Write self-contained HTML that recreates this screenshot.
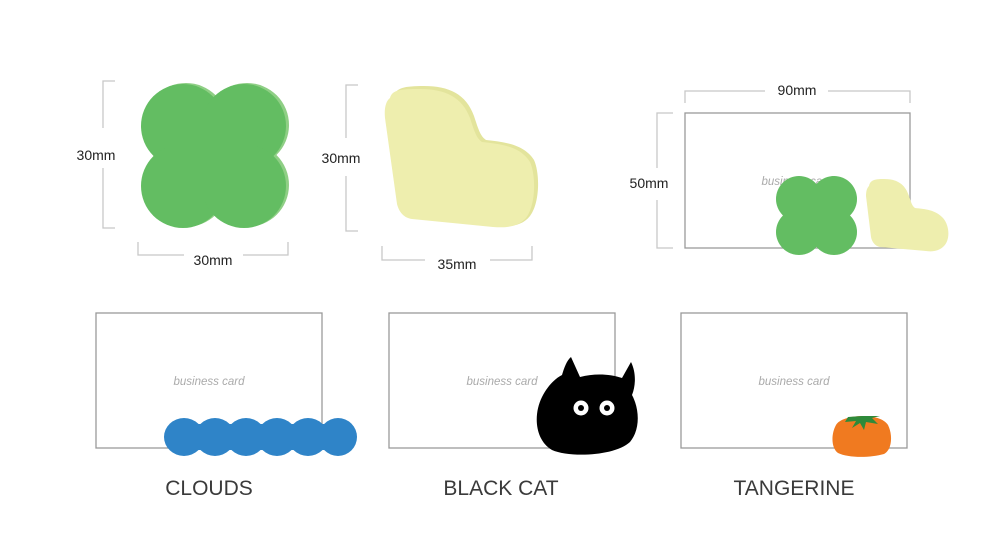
<!DOCTYPE html>
<html><head><meta charset="utf-8"><style>
html,body{margin:0;padding:0;background:#fff;}
svg{display:block;}
text{font-family:"Liberation Sans",sans-serif;}
</style></head><body>
<svg width="1000" height="536" viewBox="0 0 1000 536" xmlns="http://www.w3.org/2000/svg">
<g fill="none" stroke="#c8c8c8" stroke-width="1.3">
<polyline points="115,81 103,81 103,128"/><polyline points="103,168 103,228 115,228"/>
<polyline points="138,242 138,255 184,255"/><polyline points="243,255 288,255 288,242"/>
<polyline points="358,85 346,85 346,138"/><polyline points="346,176 346,231 358,231"/>
<polyline points="382,246 382,260 425,260"/><polyline points="490,260 532,260 532,246"/>
<polyline points="685,103 685,91 765,91"/><polyline points="828,91 910,91 910,103"/>
<polyline points="673,113 657,113 657,168"/><polyline points="657,200 657,248 673,248"/>
</g>
<g fill="none" stroke="#9a9a9a" stroke-width="1.3">
<rect x="685" y="113" width="225" height="135"/>
<rect x="96" y="313" width="226" height="135"/>
<rect x="389" y="313" width="226" height="135"/>
<rect x="681" y="313" width="226" height="135"/>
</g>
<g font-size="14" fill="#222" text-anchor="middle">
<text x="96" y="160">30mm</text>
<text x="213" y="265">30mm</text>
<text x="341" y="163">30mm</text>
<text x="457" y="269">35mm</text>
<text x="797" y="95">90mm</text>
<text x="649" y="188">50mm</text>
</g>
<g font-size="11.5" fill="#aaa" font-style="italic" text-anchor="middle">
<text x="797" y="185">business card</text>
<text x="209" y="385">business card</text>
<text x="502" y="385">business card</text>
<text x="794" y="385">business card</text>
</g>
<g fill="#8fcf85"><circle cx="186" cy="125" r="42"/><circle cx="247" cy="125" r="42"/><circle cx="186" cy="185" r="42"/><circle cx="247" cy="185" r="42"/><rect x="170" y="110" width="90" height="90"/></g>
<g fill="#63bd62"><circle cx="183" cy="126" r="42"/><circle cx="244" cy="126" r="42"/><circle cx="183" cy="186" r="42"/><circle cx="244" cy="186" r="42"/><rect x="165" y="110" width="90" height="90"/></g>
<path d="M394,96 C396,88 404,86 424,86 C449,86 466,94 474,116 C478,128 480,136 486,140 C504,142 524,144 534,160 C540,173 540,203 530,216 C522,226 510,227 497,226 L414,218 C406,217 401,211 399,203 L387,116 C386,106 389,99 394,96 Z" fill="#e3e49c"/>
<path d="M390,98 C392,90 400,89 420,89 C445,89 462,97 470,118 C474,130 476,138 482,142 C500,144 520,146 530,162 C536,175 536,205 526,218 C518,227 506,228 493,227 L412,219 C404,218 399,212 397,204 L385,118 C384,108 386,101 390,98 Z" fill="#eeeeae"/>
<g fill="#63bd62"><circle cx="799" cy="199" r="23"/><circle cx="834" cy="199" r="23"/><circle cx="799" cy="232" r="23"/><circle cx="834" cy="232" r="23"/><rect x="790" y="190" width="54" height="52"/></g>
<path d="M869,186 C870,180 875,179 884,179 C897,179 905,184 909,196 C911,202 912,206 915,208 C925,209 936,210 943,218 C950,226 950,240 944,246 C939,251 933,252 926,251 L880,247 C875,246 872,242 871,237 L866,196 C866,191 867,188 869,186 Z" fill="#eeeeae"/>
<g fill="#2f84c8"><ellipse cx="184" cy="437" rx="20" ry="19"/><ellipse cx="215" cy="437" rx="20" ry="19"/><ellipse cx="246" cy="437" rx="20" ry="19"/><ellipse cx="277" cy="437" rx="20" ry="19"/><ellipse cx="308" cy="437" rx="20" ry="19"/><ellipse cx="338" cy="437" rx="19" ry="19"/><rect x="180" y="424" width="160" height="26"/></g>
<path d="M571,357 L580,377 C595,373 610,374 622,378 L631,362 C636,372 636,385 632,395 C640,410 640,430 630,442 C615,456 570,458 552,450 C535,440 533,415 542,397 C548,385 556,378 562,375 C564,368 567,360 571,357 Z" fill="#000"/>
<circle cx="581" cy="408" r="7.5" fill="#fff"/><circle cx="607" cy="408" r="7.5" fill="#fff"/>
<circle cx="581" cy="408" r="3" fill="#000"/><circle cx="607" cy="408" r="3" fill="#000"/>
<path d="M836,425 C842,414 880,412 888,425 C893,435 892,450 884,454 C870,458 848,458 838,453 C831,448 831,434 836,425 Z" fill="#f07a20"/>
<path d="M845,422 L856,421 L852,428 L860,423 L864,430 L866,422 L878,424 L872,418 L880,416 L862,416 L848,417 Z" fill="#2e8a3a"/>
<g font-size="21" fill="#3a3a3a" text-anchor="middle">
<text x="209" y="495">CLOUDS</text>
<text x="501" y="495">BLACK CAT</text>
<text x="794" y="495">TANGERINE</text>
</g>
</svg>
</body></html>
